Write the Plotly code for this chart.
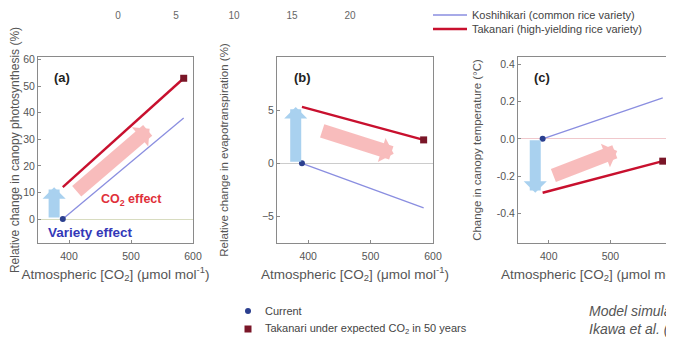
import plotly.graph_objects as go

# ---- data ----
co2 = [390, 585]                      # current and expected atmospheric CO2
photo_kosh = [0, 38]                  # (a) relative change in canopy photosynthesis (%)
photo_taka = [12, 53]
evap_kosh = [0, -4.2]                 # (b) relative change in evapotranspiration (%)
evap_taka = [5.3, 2.2]
temp_kosh = [0.0, 0.22]               # (c) change in canopy temperature (°C)
temp_taka = [-0.29, -0.12]

variety_arrow_x = [376, 380, 378]     # x of light-blue "variety effect" arrows per panel
co2_arrow_a = {"x0": 410, "y0": 10, "x1": 530, "y1": 34}
co2_arrow_b = {"x0": 420, "y0": 3.1, "x1": 537, "y1": 0.9}
co2_arrow_c = {"x0": 405, "y0": -0.20, "x1": 511, "y1": -0.065}

top_scale_ticks = [0, 5, 10, 15, 20]
x_ticks = [400, 500, 600]
ya_ticks = [0, 10, 20, 30, 40, 50, 60]
yb_ticks = [-5, 0, 5]
yc_ticks = [-0.4, -0.2, 0.0, 0.2, 0.4]
yc_labels = ["-0.4", "-0.2", "0.0", "0.2", "0.4"]

name_kosh = "Koshihikari (common rice variety)"
name_taka = "Takanari (high-yielding rice variety)"
name_cur = "Current"
name_fut = "Takanari under expected CO<sub>2</sub> in 50 years"

KOSH = "#8a8ee0"
TAKA = "#c8102e"
CUR = "#2b3f8f"
FUT = "#7a1628"
ARROW_BLUE = "rgba(160,205,238,0.9)"
ARROW_PINK = "rgba(244,135,135,0.55)"
FONT = "Liberation Sans, Arial, sans-serif"

# the page body has an 8px margin, so the figure is 8px smaller than the window
OFF = 8
W, H = 674 - OFF, 342 - OFF

def px(a, b):
    return [(a - OFF) / W, (b - OFF) / W]

def py(top, bottom):
    return [(H - (bottom - OFF)) / H, (H - (top - OFF)) / H]

def pxx(a):
    return (a - OFF) / W

def pyy(a):
    return 1 - (a - OFF) / H

fig = go.Figure()

panels = [
    ("x", "y", photo_kosh, photo_taka),
    ("x2", "y2", evap_kosh, evap_taka),
    ("x3", "y3", temp_kosh, temp_taka),
]
for i, (xa, ya, kosh, taka) in enumerate(panels):
    fig.add_trace(go.Scatter(x=co2, y=kosh, mode="lines", line=dict(color=KOSH, width=1.3),
                             xaxis=xa, yaxis=ya, name=name_kosh, showlegend=False))
    fig.add_trace(go.Scatter(x=co2, y=taka, mode="lines", line=dict(color=TAKA, width=2.4),
                             xaxis=xa, yaxis=ya, name=name_taka, showlegend=False))
    fig.add_trace(go.Scatter(x=[co2[0]], y=[kosh[0]], mode="markers",
                             marker=dict(color=CUR, size=6, symbol="circle"),
                             xaxis=xa, yaxis=ya, name=name_cur, showlegend=False))
    fig.add_trace(go.Scatter(x=[co2[1]], y=[taka[1]], mode="markers",
                             marker=dict(color=FUT, size=7, symbol="square"),
                             xaxis=xa, yaxis=ya, name=name_fut, showlegend=False))

# top (cut-off) scale
fig.add_trace(go.Scatter(x=top_scale_ticks, y=[0] * len(top_scale_ticks), mode="markers",
                         marker=dict(opacity=0), xaxis="x4", yaxis="y4", showlegend=False,
                         hoverinfo="skip"))

axis_common = dict(showline=True, linecolor="#8a8a8a", linewidth=1, mirror=True,
                   ticks="inside", ticklen=3, tickcolor="#8a8a8a", automargin=False,
                   tickfont=dict(size=10.5, color="#555", family=FONT), showgrid=False)
xt = dict(text="Atmospheric [CO<sub>2</sub>] (μmol mol<sup>-1</sup>)",
          font=dict(size=13.5, color="#555", family=FONT), standoff=8)

def yt(text, standoff, size):
    return dict(text=text, font=dict(size=size, color="#555", family=FONT), standoff=standoff)

fig.update_layout(
    width=W, height=H, margin=dict(l=0, r=0, t=0, b=0),
    paper_bgcolor="white", plot_bgcolor="white", showlegend=False,
    font=dict(family=FONT, color="#444"),
    xaxis=dict(domain=px(38, 193), range=[350, 600], tickvals=x_ticks, anchor="y",
               ticklabelstandoff=3, title=xt, **axis_common),
    yaxis=dict(domain=py(57, 243), range=[-9, 61], tickvals=ya_ticks, anchor="x",
               zeroline=True, zerolinecolor="#d8dcc0", zerolinewidth=1,
               title=yt("Relative change in canopy photosynthesis (%)", 12, 12), **axis_common),
    xaxis2=dict(domain=px(277, 433), range=[350, 600], tickvals=x_ticks, anchor="y2",
                ticklabelstandoff=3, title=xt, **axis_common),
    yaxis2=dict(domain=py(57, 243), range=[-7.5, 10], tickvals=yb_ticks, anchor="x2",
                zeroline=True, zerolinecolor="#cccccc", zerolinewidth=1,
                title=yt("Relative change in evapotranspiration (%)", 30, 11.5), **axis_common),
    xaxis3=dict(domain=px(518, 672), range=[350, 600], tickvals=x_ticks, anchor="y3",
                ticklabelstandoff=3, title=xt, **axis_common),
    yaxis3=dict(domain=py(57, 243), range=[-0.56, 0.44], tickvals=yc_ticks, ticktext=yc_labels,
                anchor="x3", zeroline=True, zerolinecolor="#f0c8cc", zerolinewidth=1,
                title=yt("Change in canopy temperature (°C)", 12, 11.5), **axis_common),
    xaxis4=dict(domain=px(118, 350), range=[0, 20], tickvals=top_scale_ticks, anchor="y4",
                side="top", showline=False, showgrid=False, zeroline=False, ticks="",
                automargin=False, tickfont=dict(size=10, color="#666", family=FONT)),
    yaxis4=dict(domain=py(22, 26), range=[-1, 1], visible=False, anchor="x4"),
)

annotations = []
shapes = []

# legend keys (drawn as paper shapes + text)
leg_font = dict(size=11, color="#444", family=FONT)
for ypos, color, width, name in [(15, KOSH, 1.5, name_kosh), (29, TAKA, 2.6, name_taka)]:
    shapes.append(dict(type="line", xref="paper", yref="paper", x0=pxx(433), x1=pxx(467),
                       y0=pyy(ypos), y1=pyy(ypos), line=dict(color=color, width=width)))
    annotations.append(dict(xref="paper", yref="paper", x=pxx(470), y=pyy(ypos),
                            xanchor="left", yanchor="middle", text=name, showarrow=False,
                            font=leg_font))
r = 3
shapes.append(dict(type="circle", xref="paper", yref="paper",
                   x0=pxx(248 - r), x1=pxx(248 + r), y0=pyy(311 + r), y1=pyy(311 - r),
                   fillcolor=CUR, line=dict(width=0)))
r = 3.5
shapes.append(dict(type="rect", xref="paper", yref="paper",
                   x0=pxx(248 - r), x1=pxx(248 + r), y0=pyy(329 + r), y1=pyy(329 - r),
                   fillcolor=FUT, line=dict(width=0)))
for ypos, name in [(311, name_cur), (329, name_fut)]:
    annotations.append(dict(xref="paper", yref="paper", x=pxx(263), y=pyy(ypos),
                            xanchor="left", yanchor="middle", text=name, showarrow=False,
                            font=leg_font))

# panel labels
for xr, yr, lab, xx in [("x", "y", "(a)", 0.09), ("x2", "y2", "(b)", 0.095), ("x3", "y3", "(c)", 0.09)]:
    annotations.append(dict(xref=f"{xr} domain", yref=f"{yr} domain", x=xx, y=0.94,
                            xanchor="left", yanchor="top", text=f"<b>{lab}</b>", showarrow=False,
                            font=dict(size=13, color="#222", family=FONT)))

# variety effect (light blue) arrows
for (xr, yr, kosh, taka), vx in zip(panels, variety_arrow_x):
    annotations.append(dict(xref=xr, yref=yr, axref=xr, ayref=yr,
                            x=vx, y=taka[0], ax=vx, ay=kosh[0],
                            text="", showarrow=True, arrowhead=1, arrowsize=0.35,
                            arrowwidth=11, arrowcolor=ARROW_BLUE))

# CO2 effect (pink) arrows
for xr, yr, a in [("x", "y", co2_arrow_a), ("x2", "y2", co2_arrow_b), ("x3", "y3", co2_arrow_c)]:
    annotations.append(dict(xref=xr, yref=yr, axref=xr, ayref=yr,
                            x=a["x1"], y=a["y1"], ax=a["x0"], ay=a["y0"],
                            text="", showarrow=True, arrowhead=1, arrowsize=0.3,
                            arrowwidth=14, arrowcolor=ARROW_PINK))

annotations.append(dict(xref="x", yref="y", x=500, y=7, text="<b>CO<sub>2</sub> effect</b>",
                        showarrow=False, font=dict(size=12.5, color="#e0303a", family=FONT)))
annotations.append(dict(xref="x", yref="y", x=434, y=-5, text="<b>Variety effect</b>",
                        showarrow=False, font=dict(size=13.5, color="#3438b8", family=FONT)))

annotations.append(dict(xref="paper", yref="paper", x=pxx(587), y=pyy(311), xanchor="left",
                        yanchor="middle", text="<i>Model simulations</i>", showarrow=False,
                        font=dict(size=14, color="#555", family=FONT)))
annotations.append(dict(xref="paper", yref="paper", x=pxx(587), y=pyy(329), xanchor="left",
                        yanchor="middle", text="<i>Ikawa et al. (2018)</i>", showarrow=False,
                        font=dict(size=14, color="#555", family=FONT)))

fig.update_layout(annotations=annotations, shapes=shapes)
fig.write_html("out.html")
